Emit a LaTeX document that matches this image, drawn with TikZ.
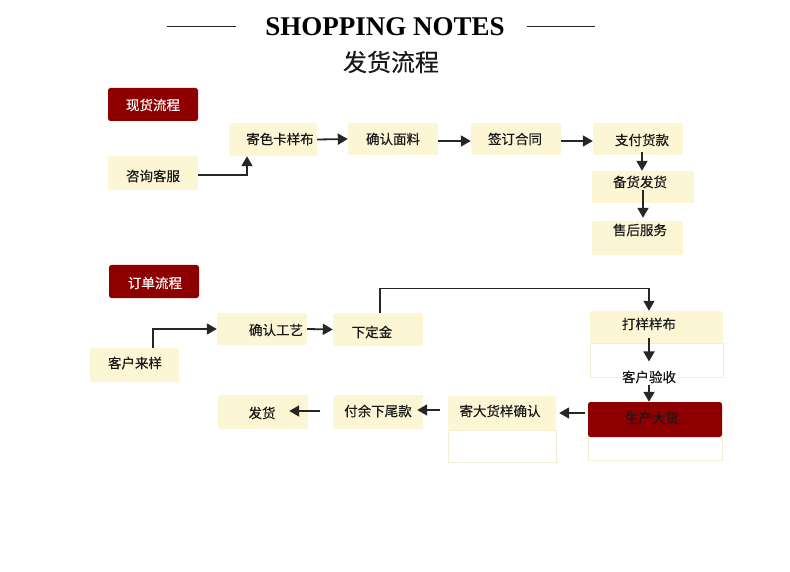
\documentclass[tikz,border=0pt]{standalone}
\usepackage{fontspec}
\setmainfont{Liberation Serif}
\newfontfamily\cjk[FakeBold=0.35]{Noto Sans CJK SC}
\usetikzlibrary{arrows.meta}
\definecolor{cream}{HTML}{FDF6D5}
\definecolor{dred}{HTML}{8E0000}
\definecolor{pale}{HTML}{F3EDD2}
\tikzset{
  cbox/.style={fill=cream, draw=none, rounded corners=1.5pt, inner sep=0pt},
  rbox/.style={fill=dred, draw=none, rounded corners=2.5pt, inner sep=0pt},
  wbox/.style={fill=white, draw=pale, line width=0.8pt, inner sep=0pt},
  txt/.style={font=\cjk\fontsize{13.5}{14}\selectfont, inner sep=0pt, text=black!90},
  wtxt/.style={txt, text=white},
  arr/.style={line width=1.8pt, black!85, -{Triangle[length=10pt,width=11pt]}},
}
\begin{document}
\begin{tikzpicture}[x=1pt,y=-1pt]
\useasboundingbox (0,0) rectangle (790,572);
% title
\node[font=\bfseries\fontsize{27}{30}\selectfont, inner sep=0pt] (title) at (385,27) {SHOPPING NOTES};
\draw[line width=1pt, black!85] (167,27) -- (236,27);
\draw[line width=1pt, black!85] (527,27) -- (595,27);
\node[font=\cjk\fontsize{24}{26}\selectfont, inner sep=0pt, text=black!90] (sub) at (391,62) {发货流程};

% ---- 现货流程
\node[rbox, minimum width=90, minimum height=33] (xh) at (153,104.5) {};
\node[wtxt] (xht) at (153,105) {现货流程};
\node[cbox, minimum width=88, minimum height=33] (jc) at (273,139.5) {};
\node[txt] (jct) at (280,139) {寄色卡样布};
\node[cbox, minimum width=90, minimum height=34] (zx) at (153,173) {};
\node[txt] (zxt) at (153,176) {咨询客服};
\node[cbox, minimum width=90, minimum height=32] (qm) at (393,139) {};
\node[txt] (qmt) at (393,139) {确认面料};
\node[cbox, minimum width=90, minimum height=32] (qd) at (516,139) {};
\node[txt] (qdt) at (515,139) {签订合同};
\node[cbox, minimum width=90, minimum height=32] (zf) at (638,139) {};
\node[txt] (zft) at (642,140) {支付货款};
\node[cbox, minimum width=102, minimum height=32] (bh) at (643,187) {};
\node[txt] (bht) at (640,182) {备货发货};
\node[cbox, minimum width=91, minimum height=34] (sh) at (637.5,238) {};
\node[txt] (sht) at (640,230) {售后服务};

\draw[arr] (zx.east) ++(0,2) -| ([xshift=-26]jc.south);
\draw[arr] (jc.east) -- (qm.west);
\draw[arr] ([yshift=-2]qm.east) -- ([yshift=-2]qd.west);
\draw[arr] ([yshift=-2]qd.east) -- ([yshift=-2]zf.west);
\draw[arr] ([xshift=4,yshift=3]zf.south) -- ([xshift=-1]bh.north);
\draw[arr] ([yshift=13]bh.south) -- ([xshift=5.5,yshift=3]sh.north);

% ---- 订单流程
\node[rbox, minimum width=90, minimum height=33] (dd) at (154,281.5) {};
\node[wtxt] (ddt) at (155,283) {订单流程};
\node[cbox, minimum width=89, minimum height=34] (ky) at (134.5,365) {};
\node[txt] (kyt) at (135,363) {客户来样};
\node[cbox, minimum width=90, minimum height=32] (qg) at (262,329) {};
\node[txt] (qgt) at (276,330) {确认工艺};
\node[cbox, minimum width=90, minimum height=33] (xd) at (378,329.5) {};
\node[txt] (xdt) at (372,332) {下定金};
\node[wbox, minimum width=133, minimum height=34] (dyw) at (656.5,360) {};
\node[cbox, minimum width=133, minimum height=32] (dy) at (656.5,327) {};
\node[txt] (dyt) at (649,324) {打样样布};
\node[txt, fill=white, inner sep=1pt] (ys) at (649,377) {客户验收};
\node[wbox, minimum width=134, minimum height=24] (scw) at (655,448.5) {};
\node[rbox, minimum width=134, minimum height=35] (sc) at (655,419.5) {};
\node[txt] (sct) at (652,418) {生产大货};
\node[wbox, minimum width=108, minimum height=32] (jdw) at (502,446) {};
\node[cbox, minimum width=108, minimum height=34] (jd) at (502,413) {};
\node[txt] (jdt) at (500,411) {寄大货样确认};
\node[cbox, minimum width=90, minimum height=34] (fy) at (378,412) {};
\node[txt] (fyt) at (378,411) {付余下尾款};
\node[cbox, minimum width=90, minimum height=34] (fh) at (263,412) {};
\node[txt] (fht) at (262,413) {发货};

\draw[arr] ([xshift=18.5]ky.north) |- (qg.west);
\draw[arr] (qg.east) -- (xd.west);
\draw[arr, line width=1.2pt] ([xshift=2]xd.north) -- ++(0,-24) -| ([xshift=-7.5]dy.north);
\draw[arr] ([xshift=-7.5,yshift=5]dy.south) -- ([yshift=8]ys.north);
\draw[arr] (ys.south) -- ([xshift=-6]sc.north);
\draw[arr] ([xshift=-3]sc.west |- jd.east) -- ([xshift=3]jd.east);
\draw[arr] ([xshift=-8,yshift=3]jd.west) -- ([xshift=-6,yshift=2]fy.east);
\draw[arr] ([xshift=-13,yshift=1]fy.west) -- ([xshift=-19,yshift=1]fh.east);
\end{tikzpicture}
\end{document}
